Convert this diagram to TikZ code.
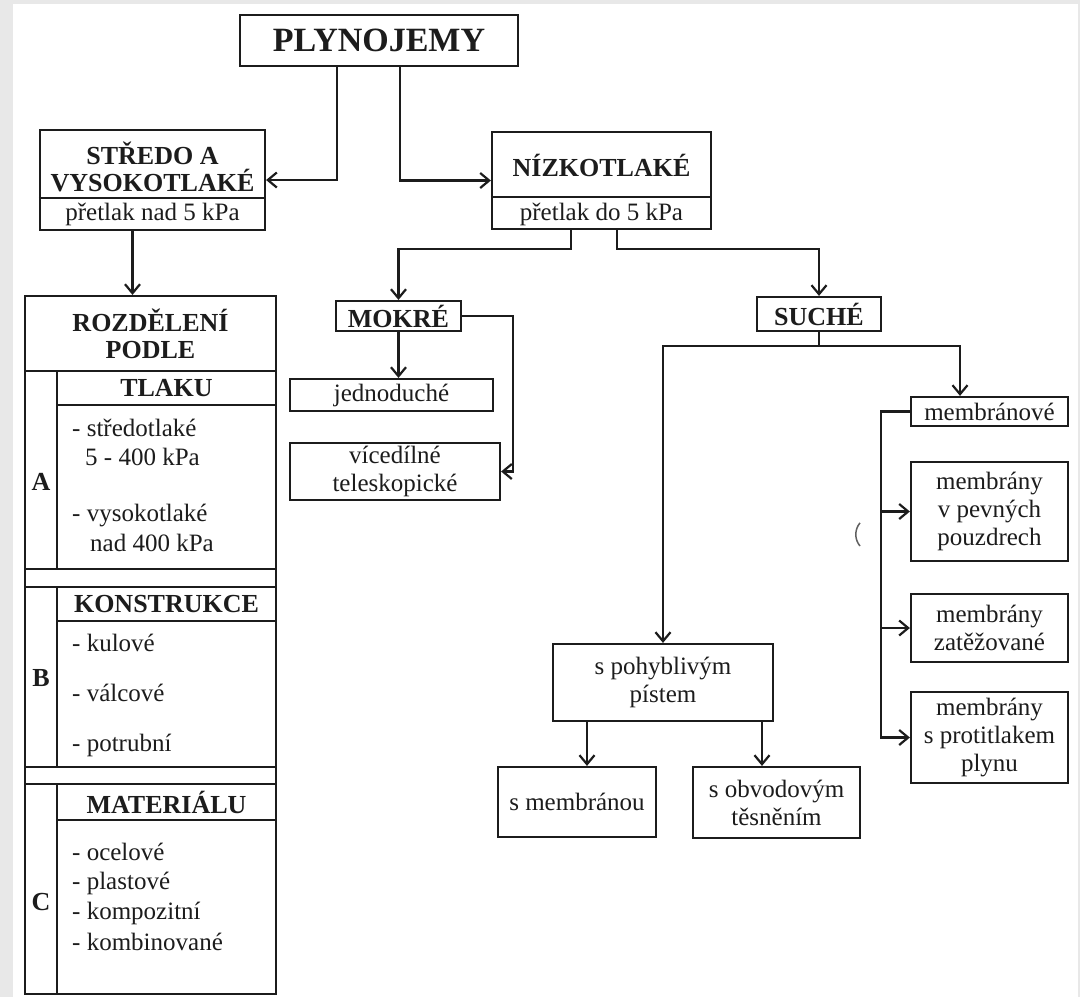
\documentclass[tikz,border=0pt]{standalone}
\usepackage{fontspec}
\setmainfont{Liberation Serif}
\usetikzlibrary{arrows.meta}
\definecolor{pozadi}{RGB}{232,232,232}
\definecolor{cara}{RGB}{28,28,28}

\begin{document}
\begin{tikzpicture}[x=1pt, y=-1pt,
  box/.style={draw=cara, line width=2.2pt, inner sep=0pt, align=center, text=cara, font=\fontsize{25}{28}\selectfont},
  hbox/.style={box, font=\fontsize{26}{27}\selectfont\bfseries},
  txt/.style={inner sep=0pt, align=center, text=cara, font=\fontsize{25}{28}\selectfont},
  hd/.style={txt, font=\fontsize{26}{27}\selectfont\bfseries},
  arr/.style={draw=cara, line width=2.2pt, -{Straight Barb[length=9pt,width=15pt,line width=2.2pt]}},
  ln/.style={draw=cara, line width=2.2pt}]
\useasboundingbox (0,0) rectangle (1080,997);
\fill[pozadi] (0,0) rectangle (1080,997);
\fill[white] (13,4) rectangle (1078,997);

% top level
\node[hbox, font=\fontsize{34}{36}\selectfont\bfseries, minimum width=278, minimum height=51] (plyn) at (379,40.5) {PLYNOJEMY};

\node[box, minimum width=225, minimum height=100] (stredo) at (152.5,180) {};
\node[hd] (stredoT) at (152.5,167) {STŘEDO A\\VYSOKOTLAKÉ};
\node[txt] (stredoP) at (152.5,214) {přetlak nad 5 kPa};
\draw[ln] ([yshift=-18pt]stredo.west) -- ([yshift=-18pt]stredo.east);

\node[box, minimum width=219, minimum height=97] (niz) at (601.5,180.5) {};
\node[hd] (nizT) at (601.5,165) {NÍZKOTLAKÉ};
\node[txt] (nizP) at (601.5,214) {přetlak do 5 kPa};
\draw[ln] ([yshift=-16.5pt]niz.west) -- ([yshift=-16.5pt]niz.east);

\draw[arr] ([xshift=-42pt]plyn.south) |- (stredo.east);
\draw[arr] ([xshift=21pt]plyn.south) |- (niz.west);

% rozdeleni podle
\node[hbox, minimum width=251, minimum height=75] (rozd) at (150.5,333.5) {ROZDĚLENÍ\\PODLE};
\draw[arr] ([xshift=-20pt]stredo.south) -- ([xshift=-20pt]stredo.south |- rozd.north);

\node[box, minimum width=32, minimum height=198] (colA) at (41,470) {};
\node[hbox, minimum width=219, minimum height=34] (tlaku) at (166.5,388) {TLAKU};
\node[box, minimum width=219, minimum height=164] (listA) at (166.5,487) {};
\node[box, minimum width=251, minimum height=18] (pas1) at (150.5,578) {};
\node[box, minimum width=32, minimum height=180] (colB) at (41,677) {};
\node[hbox, minimum width=219, minimum height=34] (konstr) at (166.5,604) {KONSTRUKCE};
\node[box, minimum width=219, minimum height=146] (listB) at (166.5,694) {};
\node[box, minimum width=251, minimum height=17] (pas2) at (150.5,775.5) {};
\node[box, minimum width=32, minimum height=210] (colC) at (41,889) {};
\node[hbox, minimum width=219, minimum height=36] (mater) at (166.5,802) {MATERIÁLU};
\node[box, minimum width=219, minimum height=174] (listC) at (166.5,907) {};

\node[hd] (pA) at (41,482) {A};
\node[hd] (pB) at (41,678) {B};
\node[hd] (pC) at (41,902) {C};

\node[txt, anchor=west] (a1) at (72,428) {- středotlaké};
\node[txt, anchor=west] (a2) at (85,457) {5 - 400 kPa};
\node[txt, anchor=west] (a3) at (72,515) {- vysokotlaké};
\node[txt, anchor=west] (a4) at (90,543) {nad 400 kPa};
\node[txt, anchor=west] (b1) at (72,643) {- kulové};
\node[txt, anchor=west] (b2) at (72,693) {- válcové};
\node[txt, anchor=west] (b3) at (72,745) {- potrubní};
\node[txt, anchor=west] (c1) at (72,852) {- ocelové};
\node[txt, anchor=west] (c2) at (72,883) {- plastové};
\node[txt, anchor=west] (c3) at (72,913) {- kompozitní};
\node[txt, anchor=west] (c4) at (72,942) {- kombinované};

% mokre
\node[hbox, minimum width=125, minimum height=30] (mokre) at (398.5,316) {MOKRÉ};
\node[box, minimum width=203, minimum height=32] (jedn) at (391.5,395) {jednoduché};
\node[box, minimum width=210, minimum height=57] (vice) at (395,471.5) {vícedílné\\teleskopické};
\draw[arr] ([xshift=-30.5pt]niz.south) -- ++(0,19) -| (mokre.north);
\draw[arr] (mokre.south) -- (mokre.south |- jedn.north);
\draw[arr] (mokre.east) -- ++(51,0) |- (vice.east);

% suche
\node[hbox, minimum width=124, minimum height=34] (suche) at (819,314) {SUCHÉ};
\draw[arr] ([xshift=15.5pt]niz.south) -- ++(0,19) -| (suche.north);
\node[box, minimum width=220, minimum height=77] (pohyb) at (663,682.5) {s pohyblivým\\pístem};
\node[box, minimum width=158, minimum height=70] (smem) at (577,802) {s membránou};
\node[box, minimum width=167, minimum height=71] (sobv) at (776.5,802.5) {s obvodovým\\těsněním};
\node[box, minimum width=157, minimum height=29] (membr) at (989.5,411.5) {membránové};
\node[box, minimum width=157, minimum height=99] (mem1) at (989.5,511.5) {membrány\\v pevných\\pouzdrech};
\node[box, minimum width=157, minimum height=68] (mem2) at (989.5,628) {membrány\\zatěžované};
\node[box, minimum width=157, minimum height=91] (mem3) at (989.5,737.5) {membrány\\s protitlakem\\plynu};

\draw[ln] (suche.south) -- ++(0,14) coordinate (sj);
\draw[arr] (sj) -| (pohyb.north);
\draw[arr] (sj) -| ([xshift=-29.5pt]membr.north);
\draw[arr] ([xshift=-76pt]pohyb.south) -- ([xshift=-76pt]pohyb.south |- smem.north);
\draw[arr] ([xshift=99pt]pohyb.south) -- ([xshift=99pt]pohyb.south |- sobv.north);
\coordinate (mb) at ([xshift=-29pt]membr.west);
\draw[arr] (membr.west) -- (mb) |- (mem3.west);
\draw[arr] (mb |- mem1.west) -- (mem1.west);
\draw[arr] (mb |- mem2.west) -- (mem2.west);

\draw[cara!70, line width=1.5pt] (860,546) arc[start angle=140, end angle=220, radius=18];
\end{tikzpicture}
\end{document}
